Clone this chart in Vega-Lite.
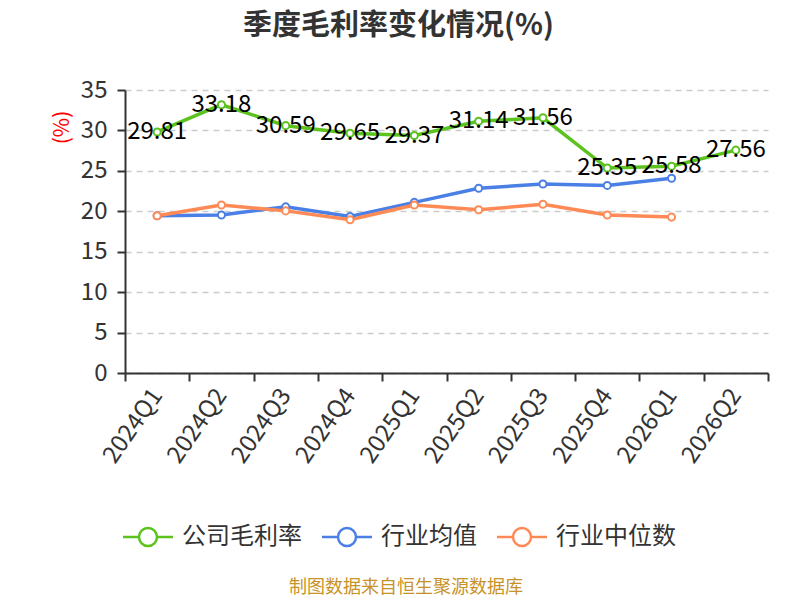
{
  "$schema": "https://vega.github.io/schema/vega-lite/v6.json",
  "autosize": "none",
  "padding": {"left": 125, "top": 90, "right": 32, "bottom": 227},
  "width": 643,
  "height": 283,
  "background": "white",
  "title": {
    "text": "季度毛利率变化情况(%)",
    "anchor": "middle",
    "font": "Noto Sans CJK SC",
    "fontSize": 29,
    "fontWeight": "bold",
    "color": "#333333",
    "baseline": "middle",
    "dx": -48,
    "dy": -23,
    "offset": 0
  },
  "config": {
    "font": "Noto Sans CJK SC",
    "view": {"stroke": null}
  },
  "data": {
    "values": [
      {"quarter": "2024Q1", "series": "公司毛利率", "value": 29.81},
      {"quarter": "2024Q2", "series": "公司毛利率", "value": 33.18},
      {"quarter": "2024Q3", "series": "公司毛利率", "value": 30.59},
      {"quarter": "2024Q4", "series": "公司毛利率", "value": 29.65},
      {"quarter": "2025Q1", "series": "公司毛利率", "value": 29.37},
      {"quarter": "2025Q2", "series": "公司毛利率", "value": 31.14},
      {"quarter": "2025Q3", "series": "公司毛利率", "value": 31.56},
      {"quarter": "2025Q4", "series": "公司毛利率", "value": 25.35},
      {"quarter": "2026Q1", "series": "公司毛利率", "value": 25.58},
      {"quarter": "2026Q2", "series": "公司毛利率", "value": 27.56},
      {"quarter": "2024Q1", "series": "行业均值", "value": 19.45},
      {"quarter": "2024Q2", "series": "行业均值", "value": 19.55},
      {"quarter": "2024Q3", "series": "行业均值", "value": 20.55},
      {"quarter": "2024Q4", "series": "行业均值", "value": 19.35},
      {"quarter": "2025Q1", "series": "行业均值", "value": 21.1},
      {"quarter": "2025Q2", "series": "行业均值", "value": 22.85},
      {"quarter": "2025Q3", "series": "行业均值", "value": 23.38},
      {"quarter": "2025Q4", "series": "行业均值", "value": 23.2},
      {"quarter": "2026Q1", "series": "行业均值", "value": 24.08},
      {"quarter": "2024Q1", "series": "行业中位数", "value": 19.45},
      {"quarter": "2024Q2", "series": "行业中位数", "value": 20.78},
      {"quarter": "2024Q3", "series": "行业中位数", "value": 20.05},
      {"quarter": "2024Q4", "series": "行业中位数", "value": 18.95},
      {"quarter": "2025Q1", "series": "行业中位数", "value": 20.78},
      {"quarter": "2025Q2", "series": "行业中位数", "value": 20.18},
      {"quarter": "2025Q3", "series": "行业中位数", "value": 20.86},
      {"quarter": "2025Q4", "series": "行业中位数", "value": 19.55},
      {"quarter": "2026Q1", "series": "行业中位数", "value": 19.28}
    ]
  },
  "encoding": {
    "x": {
      "field": "quarter",
      "type": "ordinal",
      "scale": {"type": "band", "paddingInner": 0, "paddingOuter": 0},
      "axis": {
        "title": null,
        "labelAngle": -55,
        "labelAlign": "right",
        "labelBaseline": "middle",
        "labelFontSize": 24,
        "labelColor": "#333333",
        "labelPadding": 10,
        "tickBand": "extent",
        "tickSize": 8,
        "tickColor": "#333333",
        "tickWidth": 2,
        "domainColor": "#333333",
        "domainWidth": 2,
        "grid": false
      }
    },
    "y": {
      "field": "value",
      "type": "quantitative",
      "scale": {"domain": [0, 35]},
      "axis": {
        "values": [0, 5, 10, 15, 20, 25, 30, 35],
        "title": "(%)",
        "titleColor": "red",
        "titleFontSize": 21,
        "titleFontWeight": "normal",
        "titleX": -63,
        "titleY": 37,
        "titleAlign": "center",
        "titleBaseline": "middle",
        "titleAngle": 270,
        "labelFontSize": 24,
        "labelColor": "#333333",
        "labelPadding": 10,
        "tickSize": 8,
        "tickColor": "#333333",
        "tickWidth": 2,
        "domainColor": "#333333",
        "domainWidth": 2,
        "grid": true,
        "gridColor": "#cccccc",
        "gridDash": [6, 5],
        "gridWidth": 1.5
      }
    },
    "color": {
      "field": "series",
      "type": "nominal",
      "sort": ["公司毛利率", "行业均值", "行业中位数"],
      "scale": {
        "domain": ["公司毛利率", "行业均值", "行业中位数"],
        "range": ["#5bc21e", "#4a7fe6", "#ff8a55"]
      },
      "legend": {
        "orient": "none",
        "direction": "horizontal",
        "legendX": 11,
        "legendY": 435,
        "padding": 0,
        "symbolType": "M-2.5,0L-0.9,0M0.9,0L2.5,0M-0.9,0A0.9,0.9,0,1,1,0.9,0A0.9,0.9,0,1,1,-0.9,0",
        "symbolSize": 400,
        "symbolStrokeWidth": 2.5,
        "symbolFillColor": "white",
        "labelFontSize": 24,
        "labelColor": "#333333",
        "labelOffset": 22,
        "columnPadding": 15,
        "title": "制图数据来自恒生聚源数据库",
        "titleOrient": "bottom",
        "titleAnchor": "middle",
        "titleFontSize": 18,
        "titleFontWeight": "normal",
        "titleColor": "#c8922a",
        "titleLimit": 600,
        "titlePadding": 28
      }
    }
  },
  "layer": [
    {
      "mark": {"type": "line", "strokeWidth": 3.5}
    },
    {
      "mark": {"type": "point", "filled": false, "fill": "white", "strokeWidth": 2, "size": 50, "opacity": 1}
    },
    {
      "transform": [{"filter": "datum.series === '公司毛利率'"}],
      "mark": {"type": "text", "fontSize": 24, "color": "black", "align": "center", "baseline": "middle"},
      "encoding": {
        "text": {"field": "value", "type": "quantitative", "format": ".2f"},
        "color": {"value": "black"}
      }
    }
  ]
}
